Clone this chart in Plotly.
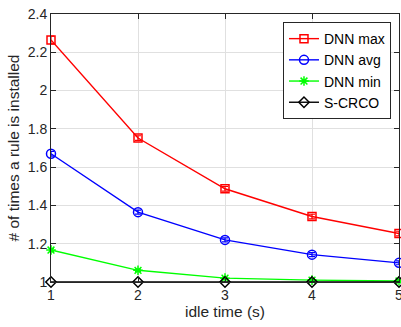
import plotly.graph_objects as go

idle_time = [1, 2, 3, 4, 5]
dnn_max = [2.264, 1.752, 1.487, 1.342, 1.253]
dnn_max_err = [0.02, 0.012, 0.012, 0.012, 0.012]
dnn_avg = [1.670, 1.365, 1.220, 1.143, 1.100]
dnn_avg_err = [0.012, 0.01, 0.01, 0.01, 0.01]
dnn_min = [1.167, 1.061, 1.020, 1.010, 1.005]
dnn_min_err = [0.008, 0.006, 0.006, 0.006, 0.004]
scrco = [1.0, 1.0, 1.0, 1.0, 1.0]

series = [
    ("DNN max", dnn_max, dnn_max_err, "#ff0000", "square-open", 8),
    ("DNN avg", dnn_avg, dnn_avg_err, "#0000ff", "circle-open", 9),
    ("DNN min", dnn_min, dnn_min_err, "#00ff00", "asterisk-open", 8),
    ("S-CRCO", scrco, None, "#000000", "diamond-open", 8),
]

fig = go.Figure()
for name, ys, err, color, sym, msize in series:
    kw = {}
    if err is not None:
        kw["error_y"] = dict(type="data", array=err, color=color, thickness=1.2, width=3)
    fig.add_trace(go.Scatter(
        x=idle_time, y=ys, name=name, mode="lines+markers",
        line=dict(color=color, width=1.4),
        marker=dict(symbol=sym, size=msize, color=color,
                    line=dict(color=color, width=1.5)),
        cliponaxis=False, **kw))

axis_common = dict(
    showline=True, linecolor="#262626", linewidth=1, mirror="ticks",
    ticks="inside", ticklen=5, tickcolor="#262626",
    showgrid=True, gridcolor="#e0e0e0", gridwidth=1, zeroline=False,
    automargin=False, ticklabeloverflow="allow",
    tickfont=dict(family="Liberation Sans, Arial, sans-serif", size=14, color="#262626"),
)

fig.update_xaxes(range=[1, 5], tickvals=[1, 2, 3, 4, 5],
                 title=dict(text="idle time (s)", font=dict(size=15.5, color="#262626"), standoff=2),
                 **axis_common)
fig.update_yaxes(range=[1, 2.4], tickvals=[1, 1.2, 1.4, 1.6, 1.8, 2, 2.2, 2.4],
                 ticktext=["1", "1.2", "1.4", "1.6", "1.8", "2", "2.2", "2.4"],
                 title=dict(text="# of times a rule is installed", font=dict(size=15.5, color="#262626"), standoff=4),
                 **axis_common)

fig.update_layout(
    width=401, height=327,
    margin=dict(l=51, r=2, t=14, b=45),
    paper_bgcolor="white", plot_bgcolor="white",
    font=dict(family="Liberation Sans, Arial, sans-serif", size=14, color="#262626"),
    showlegend=True,
    legend=dict(x=0.977, y=0.97, xanchor="right", yanchor="top",
                bordercolor="#262626", borderwidth=1, bgcolor="white",
                font=dict(size=14, color="black"), tracegroupgap=0,
                itemwidth=30),
)

fig.write_html("out.html", config={"displayModeBar": False},
               post_script="document.body.style.margin='0px';")
